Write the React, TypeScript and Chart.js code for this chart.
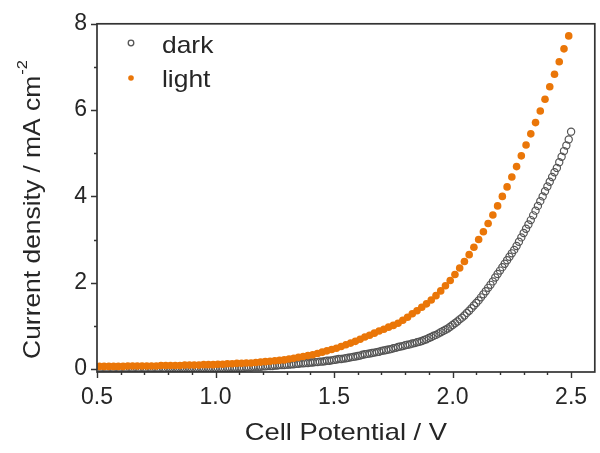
import { useEffect, useRef } from "react";
import { Chart, registerables } from "chart.js";

Chart.register(...registerables);

// ---- data ----
const lightPotential = [
  0.51, 0.53, 0.55, 0.57, 0.59, 0.61, 0.63, 0.65, 0.67, 0.69,
  0.71, 0.73, 0.75, 0.77, 0.79, 0.81, 0.83, 0.85, 0.87, 0.89,
  0.91, 0.93, 0.95, 0.97, 0.99, 1.01, 1.03, 1.05, 1.07, 1.09,
  1.11, 1.13, 1.15, 1.17, 1.19, 1.21, 1.23, 1.25, 1.27, 1.29,
  1.31, 1.33, 1.35, 1.37, 1.39, 1.41, 1.43, 1.45, 1.47, 1.49,
  1.51, 1.53, 1.55, 1.57, 1.59, 1.61, 1.63, 1.65, 1.67, 1.69,
  1.71, 1.73, 1.75, 1.77, 1.79, 1.81, 1.83, 1.85, 1.87, 1.89,
  1.91, 1.93, 1.95, 1.97, 1.99, 2.01, 2.03, 2.05, 2.07, 2.09,
  2.11, 2.13, 2.15, 2.17, 2.19, 2.21, 2.23, 2.25, 2.27, 2.29,
  2.31, 2.33, 2.35, 2.37, 2.39, 2.41, 2.43, 2.45, 2.47, 2.49,
];
const lightCurrent = [
  0.06, 0.06, 0.06, 0.06, 0.06, 0.06, 0.07, 0.07, 0.07, 0.07,
  0.07, 0.07, 0.07, 0.08, 0.08, 0.08, 0.08, 0.08, 0.09, 0.09,
  0.09, 0.09, 0.10, 0.10, 0.10, 0.11, 0.11, 0.12, 0.12, 0.13,
  0.13, 0.14, 0.14, 0.15, 0.16, 0.17, 0.18, 0.19, 0.20, 0.21,
  0.23, 0.25, 0.27, 0.29, 0.31, 0.33, 0.36, 0.39, 0.42, 0.45,
  0.48, 0.52, 0.56, 0.60, 0.64, 0.69, 0.74, 0.78, 0.83, 0.88,
  0.92, 0.97, 1.01, 1.06, 1.13, 1.20, 1.28, 1.35, 1.43, 1.51,
  1.60, 1.70, 1.81, 1.93, 2.05, 2.19, 2.34, 2.49, 2.65, 2.82,
  3.00, 3.18, 3.37, 3.57, 3.78, 4.00, 4.22, 4.45, 4.69, 4.94,
  5.19, 5.45, 5.71, 5.98, 6.25, 6.54, 6.83, 7.12, 7.42, 7.72,
];

const darkPotential = [
  0.50, 0.51, 0.52, 0.53, 0.54, 0.55, 0.56, 0.57, 0.58, 0.59,
  0.60, 0.61, 0.62, 0.63, 0.64, 0.65, 0.66, 0.67, 0.68, 0.69,
  0.70, 0.71, 0.72, 0.73, 0.74, 0.75, 0.76, 0.77, 0.78, 0.79,
  0.80, 0.81, 0.82, 0.83, 0.84, 0.85, 0.86, 0.87, 0.88, 0.89,
  0.90, 0.91, 0.92, 0.93, 0.94, 0.95, 0.96, 0.97, 0.98, 0.99,
  1.00, 1.01, 1.02, 1.03, 1.04, 1.05, 1.06, 1.07, 1.08, 1.09,
  1.10, 1.11, 1.12, 1.13, 1.14, 1.15, 1.16, 1.17, 1.18, 1.19,
  1.20, 1.21, 1.22, 1.23, 1.24, 1.25, 1.26, 1.27, 1.28, 1.29,
  1.30, 1.31, 1.32, 1.33, 1.34, 1.35, 1.36, 1.37, 1.38, 1.39,
  1.40, 1.41, 1.42, 1.43, 1.44, 1.45, 1.46, 1.47, 1.48, 1.49,
  1.50, 1.51, 1.52, 1.53, 1.54, 1.55, 1.56, 1.57, 1.58, 1.59,
  1.60, 1.61, 1.62, 1.63, 1.64, 1.65, 1.66, 1.67, 1.68, 1.69,
  1.70, 1.71, 1.72, 1.73, 1.74, 1.75, 1.76, 1.77, 1.78, 1.79,
  1.80, 1.81, 1.82, 1.83, 1.84, 1.85, 1.86, 1.87, 1.88, 1.89,
  1.90, 1.91, 1.92, 1.93, 1.94, 1.95, 1.96, 1.97, 1.98, 1.99,
  2.00, 2.01, 2.02, 2.03, 2.04, 2.05, 2.06, 2.07, 2.08, 2.09,
  2.10, 2.11, 2.12, 2.13, 2.14, 2.15, 2.16, 2.17, 2.18, 2.19,
  2.20, 2.21, 2.22, 2.23, 2.24, 2.25, 2.26, 2.27, 2.28, 2.29,
  2.30, 2.31, 2.32, 2.33, 2.34, 2.35, 2.36, 2.37, 2.38, 2.39,
  2.40, 2.41, 2.42, 2.43, 2.44, 2.45, 2.46, 2.47, 2.48, 2.49,
  2.50,
];
const darkCurrent = [
  0.01, 0.01, 0.01, 0.01, 0.01, 0.01, 0.01, 0.01, 0.01, 0.01,
  0.01, 0.01, 0.01, 0.01, 0.01, 0.01, 0.01, 0.01, 0.01, 0.01,
  0.01, 0.01, 0.01, 0.01, 0.01, 0.01, 0.01, 0.01, 0.01, 0.01,
  0.02, 0.02, 0.02, 0.02, 0.02, 0.02, 0.02, 0.02, 0.02, 0.02,
  0.02, 0.02, 0.02, 0.02, 0.02, 0.02, 0.02, 0.02, 0.02, 0.02,
  0.02, 0.02, 0.02, 0.02, 0.02, 0.03, 0.03, 0.03, 0.03, 0.03,
  0.03, 0.03, 0.03, 0.04, 0.04, 0.04, 0.05, 0.05, 0.05, 0.05,
  0.06, 0.06, 0.07, 0.07, 0.07, 0.08, 0.08, 0.09, 0.09, 0.09,
  0.10, 0.10, 0.11, 0.11, 0.12, 0.12, 0.13, 0.13, 0.14, 0.14,
  0.15, 0.15, 0.16, 0.16, 0.17, 0.17, 0.18, 0.19, 0.19, 0.20,
  0.21, 0.22, 0.23, 0.23, 0.24, 0.25, 0.26, 0.27, 0.28, 0.29,
  0.30, 0.31, 0.33, 0.34, 0.35, 0.36, 0.37, 0.38, 0.39, 0.40,
  0.42, 0.43, 0.44, 0.45, 0.46, 0.48, 0.49, 0.51, 0.52, 0.53,
  0.55, 0.56, 0.57, 0.59, 0.60, 0.62, 0.63, 0.65, 0.67, 0.69,
  0.72, 0.74, 0.77, 0.79, 0.82, 0.85, 0.88, 0.91, 0.94, 0.98,
  1.02, 1.06, 1.10, 1.15, 1.19, 1.24, 1.30, 1.35, 1.41, 1.47,
  1.53, 1.59, 1.66, 1.73, 1.80, 1.88, 1.95, 2.03, 2.12, 2.20,
  2.28, 2.36, 2.44, 2.52, 2.60, 2.68, 2.76, 2.85, 2.95, 3.05,
  3.15, 3.25, 3.35, 3.45, 3.56, 3.67, 3.78, 3.89, 4.00, 4.12,
  4.23, 4.34, 4.45, 4.56, 4.66, 4.79, 4.92, 5.05, 5.18, 5.32,
  5.50,
];

const seriesNames = ["dark", "light"];
const xMajorTicks = [0.5, 1.0, 1.5, 2.0, 2.5];
const xMinorTicks = [0.6, 0.7, 0.8, 0.9, 1.1, 1.2, 1.3, 1.4, 1.6, 1.7, 1.8, 1.9, 2.1, 2.2, 2.3, 2.4];
const yMajorTicks = [0, 2, 4, 6, 8];
const yMinorTicks = [1, 3, 5, 7];
const xTitle = "Cell Potential / V";
const yTitle = "Current density / mA cm";
const yTitleSup = "-2";

const ORANGE = "rgb(234,118,8)";
const GRAY = "#555555";
const INK = "#262626";
const FONT = "'Liberation Sans', Arial, sans-serif";

const decorPlugin = {
  id: "decor",
  afterDraw(chart: any) {
    const { ctx, chartArea, scales } = chart;
    const { left, right, top, bottom } = chartArea;
    const xs = scales.x;
    const ys = scales.y;
    ctx.save();
    // frame
    ctx.strokeStyle = "#333";
    ctx.lineWidth = 1.7;
    ctx.strokeRect(left, top, right - left, bottom - top);
    // ticks (outward)
    ctx.lineWidth = 1.4;
    ctx.beginPath();
    xMajorTicks.forEach((v) => {
      const p = Math.round(xs.getPixelForValue(v)) + 0.5;
      ctx.moveTo(p, bottom);
      ctx.lineTo(p, bottom + 6);
    });
    xMinorTicks.forEach((v) => {
      const p = Math.round(xs.getPixelForValue(v)) + 0.5;
      ctx.moveTo(p, bottom);
      ctx.lineTo(p, bottom + 3);
    });
    yMajorTicks.forEach((v) => {
      const p = Math.round(ys.getPixelForValue(v)) + 0.5;
      ctx.moveTo(left, p);
      ctx.lineTo(left - 6, p);
    });
    yMinorTicks.forEach((v) => {
      const p = Math.round(ys.getPixelForValue(v)) + 0.5;
      ctx.moveTo(left, p);
      ctx.lineTo(left - 3, p);
    });
    ctx.stroke();

    ctx.fillStyle = INK;
    // x title
    ctx.save();
    ctx.translate((left + right) / 2, 433);
    ctx.scale(1.14, 1);
    ctx.font = `24px ${FONT}`;
    ctx.textAlign = "center";
    ctx.textBaseline = "middle";
    ctx.fillText(xTitle, 0, 0);
    ctx.restore();

    // y title with superscript
    ctx.save();
    ctx.translate(33, 210);
    ctx.rotate(-Math.PI / 2);
    ctx.scale(1.1, 1);
    ctx.font = `24px ${FONT}`;
    ctx.textBaseline = "middle";
    ctx.textAlign = "left";
    const wMain = ctx.measureText(yTitle).width;
    ctx.font = `15px ${FONT}`;
    const wSup = ctx.measureText(yTitleSup).width;
    const start = -(wMain + wSup) / 2;
    ctx.font = `24px ${FONT}`;
    ctx.fillText(yTitle, start, 0);
    ctx.font = `15px ${FONT}`;
    ctx.fillText(yTitleSup, start + wMain + 1, -10);
    ctx.restore();

    // legend
    const markers = [
      { y: 43, base: 53 },
      { y: 78, base: 87 },
    ];
    chart.data.datasets.forEach((ds: any, i: number) => {
      const m = markers[i];
      ctx.beginPath();
      ctx.arc(131, m.y, 2.8, 0, Math.PI * 2);
      if (i === 0) {
        ctx.fillStyle = "#fff";
        ctx.fill();
        ctx.strokeStyle = GRAY;
        ctx.lineWidth = 1.3;
        ctx.stroke();
      } else {
        ctx.fillStyle = ORANGE;
        ctx.fill();
      }
      ctx.save();
      ctx.translate(162, m.base);
      ctx.scale(1.1, 1);
      ctx.fillStyle = INK;
      ctx.font = `24px ${FONT}`;
      ctx.textAlign = "left";
      ctx.textBaseline = "alphabetic";
      ctx.fillText(ds.label, 0, 0);
      ctx.restore();
    });
    ctx.restore();
  },
};

export default function App() {
  const canvasRef = useRef<HTMLCanvasElement | null>(null);

  useEffect(() => {
    document.body.style.margin = "0";
    const canvas = canvasRef.current;
    if (!canvas) return;
    const chart = new Chart(canvas, {
      type: "scatter",
      data: {
        datasets: [
          {
            label: seriesNames[0],
            data: darkPotential.map((v, i) => ({ x: v, y: darkCurrent[i] })),
            pointRadius: 3.6,
            pointBorderWidth: 1.2,
            pointBorderColor: GRAY,
            pointBackgroundColor: "rgba(255,255,255,0)",
            showLine: false,
            order: 2,
          },
          {
            label: seriesNames[1],
            data: lightPotential.map((v, i) => ({ x: v, y: lightCurrent[i] })),
            pointRadius: 3.8,
            pointBorderWidth: 0,
            pointBorderColor: ORANGE,
            pointBackgroundColor: ORANGE,
            showLine: false,
            order: 1,
          },
        ],
      },
      options: {
        animation: false,
        responsive: false,
        devicePixelRatio: 1,
        layout: { padding: { top: 22, right: 3, left: 0, bottom: 0 } },
        plugins: {
          legend: { display: false },
          tooltip: { enabled: false },
        },
        scales: {
          x: {
            type: "linear",
            min: 0.5,
            max: 2.6,
            grid: { display: false, drawTicks: false },
            border: { display: false },
            afterBuildTicks: (s: any) => {
              s.ticks = xMajorTicks.map((v) => ({ value: v }));
            },
            afterFit: (s: any) => {
              s.height = 81;
            },
            ticks: {
              padding: 12,
              color: INK,
              font: { family: FONT, size: 23 },
              maxRotation: 0,
              callback: (v: any) => Number(v).toFixed(1),
            },
          },
          y: {
            type: "linear",
            min: -0.07,
            max: 8,
            grid: { display: false, drawTicks: false },
            border: { display: false },
            afterBuildTicks: (s: any) => {
              s.ticks = yMajorTicks.map((v) => ({ value: v }));
            },
            afterFit: (s: any) => {
              s.width = 97;
            },
            ticks: {
              padding: 10,
              color: INK,
              font: { family: FONT, size: 23 },
              callback: (v: any) => String(Math.round(Number(v))),
            },
          },
        },
      },
      plugins: [decorPlugin],
    });
    return () => chart.destroy();
  }, []);

  return (
    <div style={{ width: 600, height: 453, position: "relative", background: "#fff" }}>
      <canvas ref={canvasRef} width={600} height={453} />
    </div>
  );
}
